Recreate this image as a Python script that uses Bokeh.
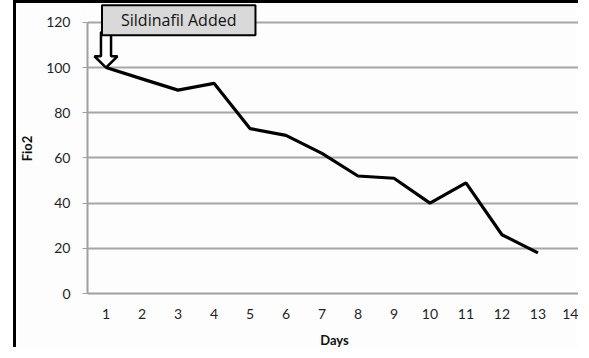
from bokeh.plotting import figure
from bokeh.models import Range1d, Label, PolyAnnotation, FixedTicker
from bokeh.embed import file_html
from bokeh.resources import INLINE

days = [1, 2, 3, 4, 5, 6, 7, 8, 9, 10, 11, 12, 13]
fio2 = [100, 95, 90, 93, 73, 70, 62, 52, 51, 40, 49, 26, 18]
x_ticks = list(range(1, 15))
y_ticks = [0, 20, 40, 60, 80, 100, 120]
note_text = "Sildinafil Added"

FONT = "Lato"
X0, X1 = 0.486, 14.21
Y0, Y1 = 0, 120
Y_TOP = 128.35  # head-room above the axis so the callout sits inside the frame

p = figure(width=565, height=347, output_backend="svg", toolbar_location=None,
           x_range=Range1d(X0, X1), y_range=Range1d(Y0, Y_TOP),
           min_border_left=71, min_border_right=0, min_border_top=0, min_border_bottom=55)
p.styles = {"margin-left": "13px", "border-left": "3px solid black",
            "border-top": "3px solid black"}
p.background_fill_color = "#fdfdfd"
p.border_fill_color = "#fdfdfd"
p.outline_line_color = None

p.xgrid.grid_line_color = None
p.ygrid.grid_line_color = "#a6a6a6"
p.ygrid.grid_line_width = 2
p.ygrid.ticker = FixedTicker(ticks=y_ticks)

p.xaxis.ticker = FixedTicker(ticks=x_ticks)
p.yaxis.ticker = FixedTicker(ticks=y_ticks)
p.yaxis.bounds = (Y0, Y1)
for ax in (p.xaxis[0], p.yaxis[0]):
    ax.axis_line_color = "#a0a0a0"
    ax.axis_line_width = 2
    ax.minor_tick_line_color = None
    ax.major_label_text_font = FONT
    ax.major_label_text_font_size = "14px"
    ax.major_label_text_color = "#1f1f2a"
    ax.axis_label_text_font = FONT
    ax.axis_label_text_font_size = "13px"
    ax.axis_label_text_font_style = "bold"
    ax.axis_label_text_color = "#111111"

p.xaxis.major_tick_line_color = None
p.xaxis.major_tick_out = 0
p.xaxis.major_tick_in = 0
p.xaxis.major_label_standoff = 15
p.xaxis.axis_label = "Days"
p.xaxis.axis_label_standoff = 10

p.yaxis.major_tick_line_color = "#a0a0a0"
p.yaxis.major_tick_out = 5
p.yaxis.major_tick_in = 0
p.yaxis.major_label_standoff = 12
p.yaxis.axis_label = "Fio2"
p.yaxis.axis_label_standoff = 8

p.line(days, fio2, line_color="black", line_width=3.2)

# hollow block arrow pointing at the first data point
x0, y0 = days[0], fio2[0]
hw, sw = 0.32, 0.14
hh, st = 5.0, 15.6
arrow = PolyAnnotation(
    xs=[x0, x0 + hw, x0 + sw, x0 + sw, x0 - sw, x0 - sw, x0 - hw],
    ys=[y0, y0 + hh, y0 + hh, y0 + st, y0 + st, y0 + hh, y0 + hh],
    fill_color="white", fill_alpha=1, line_color="black", line_alpha=1, line_width=2.5)
p.add_layout(arrow)

note = Label(x=x0, y=Y1, x_offset=-4, y_offset=2, text=note_text,
             text_font="Open Sans", text_font_size="16px", text_color="#111111",
             text_align="left", text_baseline="middle",
             background_fill_color="#d9d9d9", background_fill_alpha=1,
             border_line_color="black", border_line_width=2, padding=(19, 4))
p.add_layout(note)

open("out.html", "w").write(file_html(p, INLINE))
